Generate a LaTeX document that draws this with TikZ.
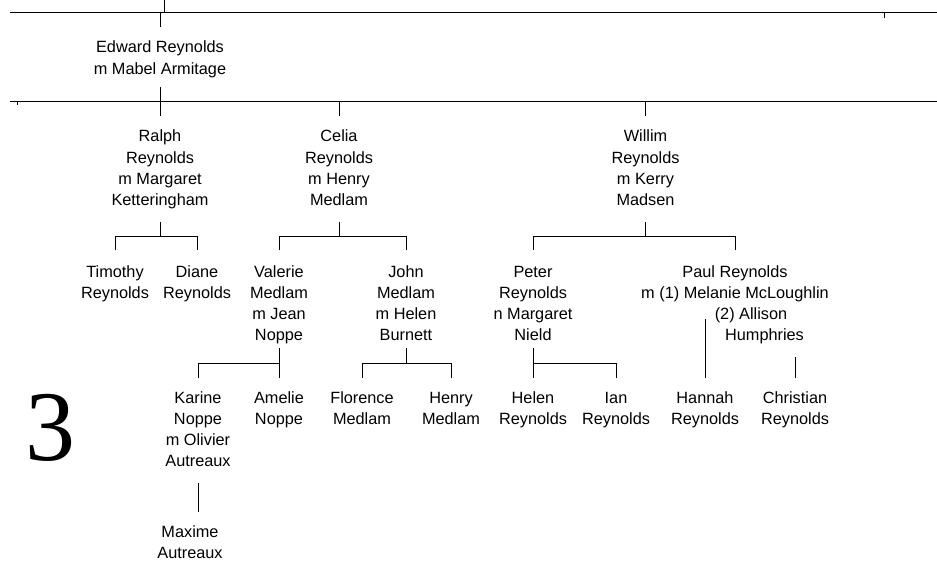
\documentclass[tikz,border=0pt]{standalone}
\usepackage{fontspec}
\setmainfont{Liberation Sans}
\newfontfamily\genfont{Liberation Serif}
% centred block of name lines, baseline at its first line
\newcommand\pname[1]{\begin{tabular}[t]{@{}c@{}}#1\end{tabular}}
\begin{document}
\begin{tikzpicture}[x=1pt,y=-1pt,
  person/.style={font=\fontsize{16.3}{21.3}\selectfont,inner sep=0pt,anchor=base},
  link/.style={line width=0.9pt,black}]
\useasboundingbox (0,0) rectangle (937,564);

% vertical levels used by the connectors
\coordinate (yTop)  at (0,0);
\coordinate (barA)  at (0,12.7);
\coordinate (yA1)   at (0,27);
\coordinate (yA2)   at (0,18.3);
\coordinate (yB0)   at (0,87);
\coordinate (barB)  at (0,101.7);
\coordinate (yB1)   at (0,116);
\coordinate (yB2)   at (0,105.5);
\coordinate (yC0)   at (0,222);
\coordinate (yC1)   at (0,236);
\coordinate (yC2)   at (0,250);
\coordinate (yD0)   at (0,348);
\coordinate (yD1)   at (0,363);
\coordinate (yD2)   at (0,378);
\coordinate (yPaul) at (0,319);
\coordinate (yChr)  at (0,357);
\coordinate (yE0)   at (0,483);
\coordinate (yE1)   at (0,512);

% people
\node[person] (edward) at (160,53) {\pname{Edward Reynolds\\m Mabel Armitage}};

\node[person] (ralph)  at (160,142)   {\pname{Ralph\\Reynolds\\m Margaret\\Ketteringham}};
\node[person] (celia)  at (339,142)   {\pname{Celia\\Reynolds\\m Henry\\Medlam}};
\node[person] (willim) at (645.5,142) {\pname{Willim\\Reynolds\\m Kerry\\Madsen}};

\node[person] (timothy) at (115,277) {\pname{Timothy\\Reynolds}};
\node[person] (diane)   at (197,277) {\pname{Diane\\Reynolds}};
\node[person] (valerie) at (279,277) {\pname{Valerie\\Medlam\\m Jean\\Noppe}};
\node[person] (john)    at (406,277) {\pname{John\\Medlam\\m Helen\\Burnett}};
\node[person] (peter)   at (533,277) {\pname{Peter\\Reynolds\\n Margaret\\Nield}};
\node[person] (paul)    at (735,277) {\pname{Paul Reynolds\\m (1) Melanie McLoughlin\\\hspace*{32pt}(2) Allison\\\hspace*{59pt}Humphries}};

\node[person] (karine)    at (198,403) {\pname{Karine\\Noppe\\m Olivier\\Autreaux}};
\node[person] (amelie)    at (279,403) {\pname{Amelie\\Noppe}};
\node[person] (florence)  at (362,403) {\pname{Florence\\Medlam}};
\node[person] (henry)     at (451,403) {\pname{Henry\\Medlam}};
\node[person] (helen)     at (533,403) {\pname{Helen\\Reynolds}};
\node[person] (ian)       at (616,403) {\pname{Ian\\Reynolds}};
\node[person] (hannah)    at (705,403) {\pname{Hannah\\Reynolds}};
\node[person] (christian) at (795,403) {\pname{Christian\\Reynolds}};

\node[person] (maxime) at (190,537) {\pname{Maxime\\Autreaux}};

% generation number
\node[font=\genfont\fontsize{100}{100}\selectfont,inner sep=0pt] (gen) at (50,427.5) {3};

% generation bars and their ticks
\coordinate (barAl) at (10,12.7);  \coordinate (barAr) at (937,12.7);
\coordinate (barBl) at (10,101.7); \coordinate (barBr) at (937,101.7);
\coordinate (tickUp)    at (164.5,0);
\coordinate (tickRight) at (884.7,0);
\coordinate (tickLeft)  at (17.5,0);
\draw[link] (barAl) -- (barAr);
\draw[link] (barBl) -- (barBr);
\draw[link] (tickUp |- yTop) -- (tickUp |- barA);
\draw[link] (tickRight |- barA) -- (tickRight |- yA2);
\draw[link] (tickLeft |- barB) -- (tickLeft |- yB2);
\draw[link] (edward |- barA) -- (edward |- yA1);
\draw[link] (edward |- yB0) -- (ralph |- yB1);
\draw[link] (celia |- barB) -- (celia |- yB1);
\draw[link] (willim |- barB) -- (willim |- yB1);

% children of Ralph, Celia and Willim
\draw[link] (ralph |- yC0) -- (ralph |- yC1);
\draw[link] (timothy |- yC2) |- (diane |- yC1) -- (diane |- yC2);
\draw[link] (celia |- yC0) -- (celia |- yC1);
\draw[link] (valerie |- yC2) |- (john |- yC1) -- (john |- yC2);
\draw[link] (willim |- yC0) -- (willim |- yC1);
\draw[link] (peter |- yC2) |- (paul |- yC1) -- (paul |- yC2);

% grandchildren
\draw[link] (valerie |- yD0) -- (amelie |- yD2);
\draw[link] (karine |- yD2) |- (amelie |- yD1);
\draw[link] (john |- yD0) -- (john |- yD1);
\draw[link] (florence |- yD2) |- (henry |- yD1) -- (henry |- yD2);
\draw[link] (peter |- yD0) -- (helen |- yD2);
\draw[link] (helen |- yD1) -| (ian |- yD2);
\draw[link] (hannah |- yPaul) -- (hannah |- yD2);
\draw[link] (christian |- yChr) -- (christian |- yD2);

% next generation
\draw[link] (karine |- yE0) -- (karine |- yE1);
\end{tikzpicture}
\end{document}
